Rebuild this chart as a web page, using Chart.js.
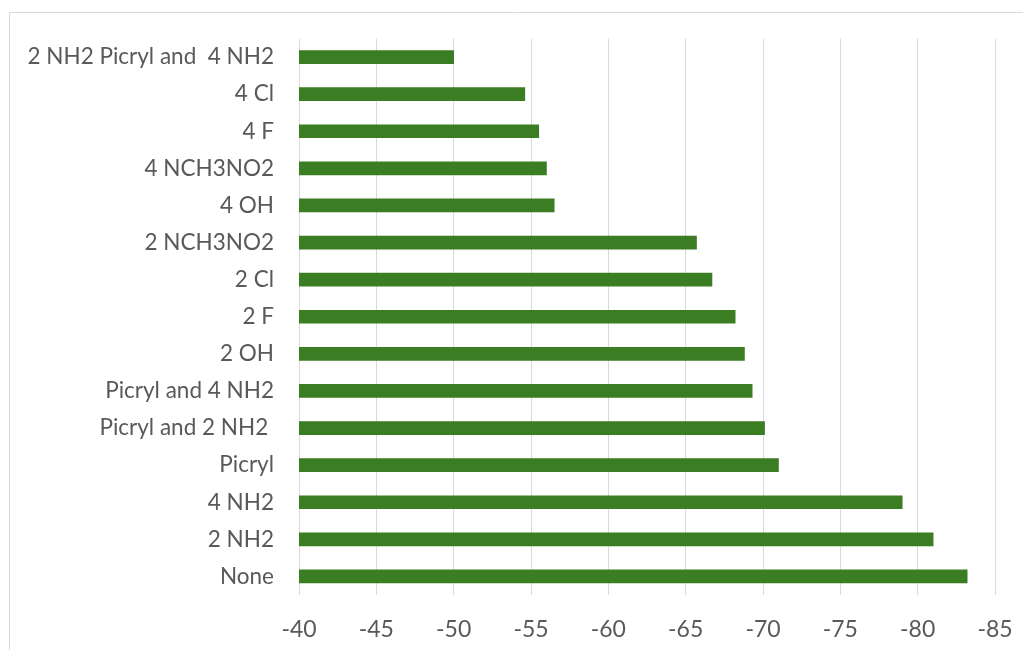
<!DOCTYPE html>
<html>
<head>
<meta charset="utf-8">
<script src="https://cdn.jsdelivr.net/npm/chart.js@4"></script>
<style>
  html, body { margin: 0; padding: 0; background: #fff; }
  #wrap { width: 1023px; height: 650px; position: relative; }
</style>
</head>
<body>
<div id="wrap"><canvas id="energyChart" width="1023" height="650"></canvas></div>
<script>
// Substituent groups, top to bottom
const categories = [
    '2 NH2 Picryl and  4 NH2',
    '4 Cl',
    '4 F',
    '4 NCH3NO2',
    '4 OH',
    '2 NCH3NO2',
    '2 Cl',
    '2 F',
    '2 OH',
    'Picryl and 4 NH2',
    'Picryl and 2 NH2 ',
    'Picryl',
    '4 NH2',
    '2 NH2',
    'None'
];

const energies = [-50.0, -54.6, -55.5, -56.0, -56.5, -65.7, -66.7, -68.2, -68.8, -69.3, -70.1, -71.0, -79.0, -81.0, -83.2];

const axisMin = -85;
const axisMax = -40;
const axisStep = 5;

const FONT = 'Lato, "Open Sans", sans-serif';
const TEXT_COLOR = '#595959';
const GRID_COLOR = '#d9d9d9';

// Thin frame around the whole chart, open at right and bottom
const framePlugin = {
    id: 'frame',
    beforeDraw(chart) {
        const c = chart.ctx;
        c.save();
        c.strokeStyle = '#d9d9d9';
        c.lineWidth = 1;
        c.beginPath();
        c.moveTo(9.5, chart.height);
        c.lineTo(9.5, 12.5);
        c.lineTo(chart.width, 12.5);
        c.stroke();
        c.restore();
    }
};

const ctx = document.getElementById('energyChart').getContext('2d');
new Chart(ctx, {
    type: 'bar',
    data: {
        labels: categories,
        datasets: [{
            data: energies,
            backgroundColor: '#3a7d22',
            barThickness: 13
        }]
    },
    options: {
        indexAxis: 'y',
        responsive: false,
        animation: false,
        layout: { padding: { top: 36, right: 28, left: 0, bottom: 0 } },
        plugins: {
            legend: { display: false },
            tooltip: { enabled: false }
        },
        scales: {
            x: {
                reverse: true,
                min: axisMin,
                max: axisMax,
                ticks: {
                    stepSize: axisStep,
                    color: TEXT_COLOR,
                    font: { family: FONT, size: 23 },
                    padding: 21
                },
                grid: { color: GRID_COLOR, drawTicks: false },
                border: { display: false },
                afterFit(scale) {
                    scale.height = 55;
                    scale.paddingLeft = 0;
                    scale.paddingRight = 0;
                }
            },
            y: {
                ticks: {
                    color: TEXT_COLOR,
                    font: { family: FONT, size: 22.5 },
                    padding: 25
                },
                grid: { display: false, drawTicks: false },
                border: { display: false },
                afterFit(scale) { scale.width = 299; }
            }
        }
    },
    plugins: [framePlugin]
});
</script>
</body>
</html>
